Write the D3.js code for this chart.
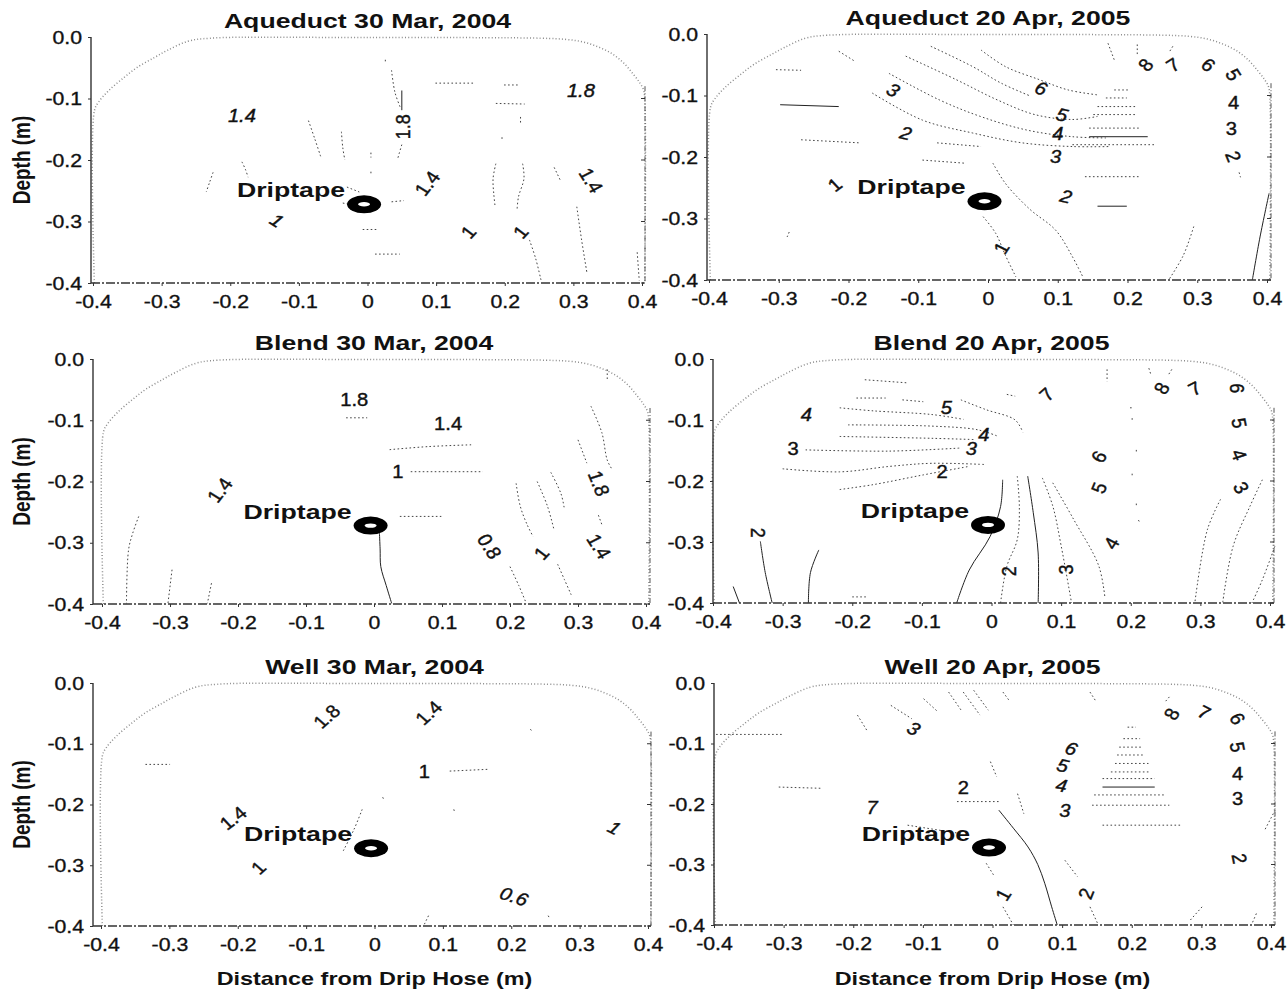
<!DOCTYPE html>
<html>
<head>
<meta charset="utf-8">
<script src="https://cdn.jsdelivr.net/npm/d3@7"></script>
<style>
  body { margin: 0; background: #fff; }
  text { font-family: "Liberation Sans", Arial, sans-serif; fill: #111; }
</style>
</head>
<body>
<svg id="fig" width="1288" height="991"></svg>
<script>
// ---- data (x = distance from hose, d = depth, m) ----
var xTicks = [-0.4, -0.3, -0.2, -0.1, 0, 0.1, 0.2, 0.3, 0.4];
var depthTicks = [0, -0.1, -0.2, -0.3, -0.4];

var panelTitles = ["Aqueduct 30 Mar, 2004", "Aqueduct 20 Apr, 2005",
                   "Blend 30 Mar, 2004", "Blend 20 Apr, 2005",
                   "Well 30 Mar, 2004", "Well 20 Apr, 2005"];

// bed outline (dotted)
var bedX =     [-0.398, -0.398, -0.392, -0.377, -0.355, -0.335, -0.31, -0.292, -0.262, -0.23, 0.0, 0.253, 0.29, 0.314, 0.336, 0.356, 0.373, 0.387, 0.397, 0.402, 0.404, 0.404];
var bedDepth = [-0.4, -0.12, -0.106, -0.087, -0.066, -0.049, -0.033, -0.022, -0.007, -0.002, -0.001, -0.002, -0.004, -0.008, -0.016, -0.027, -0.042, -0.06, -0.075, -0.085, -0.1, -0.4];

var driptapeX = -0.005, driptapeDepth = -0.272;

// Aqueduct 2004
var aq04Dashed = [
  [[0.035,-0.054],[0.04,-0.09],[0.048,-0.115]],
  [[0.05,-0.175],[0.046,-0.19],[0.044,-0.198]],
  [[-0.086,-0.136],[-0.077,-0.165],[-0.068,-0.195]],
  [[-0.038,-0.154],[-0.036,-0.18],[-0.033,-0.2]],
  [[-0.183,-0.203],[-0.178,-0.215],[-0.174,-0.228]],
  [[-0.225,-0.22],[-0.23,-0.236],[-0.235,-0.252]],
  [[-0.03,-0.244],[-0.012,-0.252]],
  [[-0.036,-0.27],[-0.026,-0.272]],
  [[0.035,-0.268],[0.053,-0.266]],
  [[0.099,-0.075],[0.156,-0.075]],
  [[0.199,-0.078],[0.221,-0.078]],
  [[0.187,-0.108],[0.229,-0.109]],
  [[0.187,-0.206],[0.183,-0.23],[0.184,-0.255],[0.186,-0.276]],
  [[0.226,-0.206],[0.228,-0.23],[0.22,-0.26],[0.218,-0.28]],
  [[0.236,-0.33],[0.245,-0.36],[0.253,-0.396]],
  [[0.272,-0.212],[0.281,-0.233]],
  [[0.305,-0.276],[0.312,-0.33],[0.32,-0.385]],
  [[0.393,-0.35],[0.396,-0.396]],
  [[-0.007,-0.313],[0.014,-0.313]],
  [[0.011,-0.353],[0.047,-0.353]],
  [[0.223,-0.13],[0.223,-0.141]],
  [[0.196,-0.163],[0.196,-0.169]],
  [[0.005,-0.188],[0.005,-0.196]],
  [[0.005,-0.219],[0.005,-0.225]],
  [[0.026,-0.037],[0.026,-0.043]]
];
var aq04Solid = [
  [[0.05,-0.087],[0.05,-0.119]]
];
var aq04Labels = [["1.4",-0.183,-0.127],["1.8",0.052,-0.146],["1.8",0.311,-0.087],["1.4",0.087,-0.238],
                  ["1.4",0.326,-0.233],["1",-0.132,-0.298],["1",0.147,-0.317],["1",0.223,-0.317]];
var aq04LabelLook = [[0,1],[-90,0],[0,1],[-55,0],[60,0],[35,1],[-50,0],[-50,0]];

// Aqueduct 2005
var aq05Dashed = [
  [[-0.214,-0.028],[-0.19,-0.045]],
  [[-0.304,-0.058],[-0.268,-0.059]],
  [[-0.268,-0.172],[-0.184,-0.177]],
  [[-0.094,-0.205],[-0.034,-0.21]],
  [[-0.073,-0.177],[-0.01,-0.183]],
  [[-0.082,-0.02],[-0.022,-0.053],[0.019,-0.08],[0.061,-0.101]],
  [[-0.118,-0.036],[-0.046,-0.074],[0.013,-0.107],[0.067,-0.131],[0.121,-0.139],[0.157,-0.134]],
  [[-0.142,-0.064],[-0.07,-0.107],[-0.011,-0.134],[0.055,-0.156],[0.121,-0.167],[0.169,-0.169]],
  [[-0.166,-0.096],[-0.094,-0.14],[-0.022,-0.161],[0.049,-0.177],[0.121,-0.183],[0.175,-0.183]],
  [[-0.01,-0.026],[0.025,-0.053],[0.073,-0.074],[0.115,-0.091],[0.157,-0.099]],
  [[0.172,-0.015],[0.181,-0.042]],
  [[0.214,-0.017],[0.214,-0.036]],
  [[0.265,-0.02],[0.259,-0.031]],
  [[0.181,-0.091],[0.202,-0.091]],
  [[0.169,-0.104],[0.199,-0.104]],
  [[0.157,-0.118],[0.211,-0.118]],
  [[0.151,-0.131],[0.214,-0.131]],
  [[0.145,-0.153],[0.217,-0.153]],
  [[0.121,-0.18],[0.241,-0.18]],
  [[0.139,-0.232],[0.217,-0.232]],
  [[-0.007,-0.297],[0.011,-0.324],[0.025,-0.36],[0.04,-0.395]],
  [[0.007,-0.21],[0.025,-0.243],[0.06,-0.285],[0.097,-0.319],[0.12,-0.36],[0.136,-0.395]],
  [[0.295,-0.313],[0.28,-0.36],[0.259,-0.4]],
  [[-0.285,-0.322],[-0.288,-0.33]],
  [[0.36,-0.225],[0.362,-0.233]]
];
var aq05Solid = [
  [[-0.298,-0.115],[-0.214,-0.118]],
  [[0.145,-0.167],[0.229,-0.167]],
  [[0.157,-0.28],[0.199,-0.28]],
  [[0.403,-0.259],[0.39,-0.33],[0.379,-0.4]]
];
var aq05Labels = [["8",0.226,-0.05],["7",0.265,-0.05],["6",0.316,-0.05],["5",0.352,-0.066],["4",0.352,-0.112],
                  ["3",0.349,-0.153],["2",0.352,-0.199],["3",-0.136,-0.091],["6",0.076,-0.088],["5",0.106,-0.131],
                  ["4",0.1,-0.161],["3",0.097,-0.199],["2",-0.118,-0.161],["2",0.112,-0.264],["1",0.019,-0.348],["1",-0.22,-0.245]];
var aq05LabelLook = [[-50,0],[-35,0],[40,0],[60,0],[0,0],[0,0],[70,0],[30,1],[20,1],[15,1],[0,1],[0,1],[15,1],[15,1],[-60,0],[-40,0]];

// Blend 2004
var bl04Dashed = [
  [[-0.041,-0.096],[-0.01,-0.096]],
  [[0.023,-0.148],[0.08,-0.143],[0.145,-0.14]],
  [[0.054,-0.184],[0.16,-0.184]],
  [[0.038,-0.257],[0.099,-0.257]],
  [[-0.346,-0.257],[-0.355,-0.285],[-0.361,-0.312],[-0.364,-0.399]],
  [[-0.297,-0.344],[-0.303,-0.399]],
  [[-0.239,-0.366],[-0.245,-0.399]],
  [[0.209,-0.203],[0.215,-0.24],[0.225,-0.27],[0.234,-0.29]],
  [[0.2,-0.339],[0.213,-0.37],[0.224,-0.399]],
  [[0.24,-0.2],[0.255,-0.24],[0.265,-0.28]],
  [[0.27,-0.335],[0.28,-0.36],[0.29,-0.385]],
  [[0.26,-0.185],[0.275,-0.22],[0.28,-0.245]],
  [[0.319,-0.077],[0.335,-0.12],[0.343,-0.165],[0.35,-0.18]],
  [[0.3,-0.132],[0.313,-0.17]],
  [[0.33,-0.255],[0.335,-0.27]],
  [[0.343,-0.017],[0.343,-0.034]]
];
var bl04Solid = [
  [[0.008,-0.284],[0.009,-0.31],[0.01,-0.339],[0.018,-0.37],[0.026,-0.399]]
];
var bl04Labels = [["1.8",-0.029,-0.066],["1.4",0.109,-0.105],["1",0.035,-0.184],["1.4",-0.227,-0.214],
                  ["1.8",0.331,-0.203],["0.8",0.17,-0.306],["1",0.246,-0.317],["1.4",0.331,-0.306]];
var bl04LabelLook = [[0,0],[0,0],[0,0],[-55,0],[70,0],[60,0],[-50,0],[60,0]];

// Blend 2005
var bl05Dashed = [
  [[-0.182,-0.034],[-0.122,-0.039]],
  [[-0.194,-0.064],[-0.152,-0.064]],
  [[-0.128,-0.067],[-0.098,-0.07]],
  [[-0.218,-0.08],[-0.17,-0.085],[-0.086,-0.091],[-0.04,-0.099]],
  [[-0.206,-0.108],[-0.086,-0.11],[-0.02,-0.116],[0.01,-0.127]],
  [[-0.218,-0.127],[-0.086,-0.13],[-0.026,-0.132]],
  [[-0.267,-0.149],[-0.147,-0.151],[-0.045,-0.146]],
  [[-0.3,-0.18],[-0.218,-0.185],[-0.146,-0.176],[-0.086,-0.171],[-0.008,-0.173]],
  [[-0.218,-0.214],[-0.17,-0.206],[-0.098,-0.19],[-0.032,-0.176]],
  [[-0.044,-0.067],[-0.008,-0.083],[0.034,-0.1],[0.045,-0.12]],
  [[0.022,-0.058],[0.034,-0.061]],
  [[0.166,-0.017],[0.166,-0.037]],
  [[0.226,-0.015],[0.229,-0.026]],
  [[0.259,-0.017],[0.253,-0.028]],
  [[0.199,-0.08],[0.204,-0.08]],
  [[0.202,-0.097],[0.202,-0.101]],
  [[0.208,-0.149],[0.208,-0.153]],
  [[0.202,-0.188],[0.202,-0.192]],
  [[0.208,-0.237],[0.208,-0.241]],
  [[0.211,-0.264],[0.213,-0.268]],
  [[0.037,-0.192],[0.04,-0.242],[0.037,-0.296],[0.022,-0.34],[0.013,-0.4]],
  [[0.073,-0.195],[0.088,-0.241],[0.1,-0.306],[0.115,-0.4]],
  [[0.088,-0.203],[0.118,-0.263],[0.154,-0.339],[0.163,-0.392]],
  [[0.389,-0.198],[0.371,-0.242],[0.347,-0.307],[0.332,-0.4]],
  [[0.329,-0.23],[0.31,-0.28],[0.292,-0.4]],
  [[0.407,-0.307],[0.389,-0.362],[0.374,-0.4]],
  [[-0.2,-0.39],[-0.18,-0.39]]
];
var bl05Solid = [
  [[0.016,-0.198],[0.013,-0.242],[-0.002,-0.291],[-0.032,-0.346],[-0.05,-0.4]],
  [[0.052,-0.192],[0.06,-0.252],[0.067,-0.318],[0.067,-0.4]],
  [[-0.332,-0.299],[-0.325,-0.35],[-0.315,-0.4]],
  [[-0.248,-0.313],[-0.26,-0.35],[-0.263,-0.4]],
  [[-0.371,-0.373],[-0.362,-0.4]]
];
var bl05Labels = [["4",-0.266,-0.091],["5",-0.065,-0.08],["4",-0.011,-0.124],["3",-0.285,-0.146],["3",-0.029,-0.146],
                  ["2",-0.071,-0.184],["7",0.079,-0.058],["8",0.244,-0.048],["7",0.292,-0.048],["6",0.353,-0.048],
                  ["5",0.356,-0.105],["4",0.356,-0.157],["3",0.359,-0.211],["6",0.154,-0.16],["5",0.154,-0.211],
                  ["4",0.172,-0.302],["2",-0.335,-0.285],["2",0.025,-0.348],["3",0.106,-0.345]];
var bl05LabelLook = [[0,1],[0,1],[0,1],[0,0],[0,1],[0,0],[-45,0],[-60,0],[-30,0],[90,0],
                     [80,0],[70,0],[60,0],[-60,0],[-70,0],[-60,0],[90,0],[-90,0],[-90,0]];

// Well 2004
var we04Dashed = [
  [[-0.335,-0.134],[-0.299,-0.134]],
  [[0.11,-0.145],[0.168,-0.142]],
  [[-0.018,-0.208],[-0.03,-0.241],[-0.046,-0.277]],
  [[0.012,-0.188],[0.014,-0.193]],
  [[0.116,-0.208],[0.117,-0.212]],
  [[0.228,-0.076],[0.23,-0.079]],
  [[0.079,-0.383],[0.073,-0.397]],
  [[0.254,-0.383],[0.256,-0.387]]
];
var we04Solid = [];
var we04Labels = [["1.8",-0.07,-0.055],["1.4",0.079,-0.049],["1",0.073,-0.145],["1.4",-0.207,-0.222],
                  ["1",-0.17,-0.304],["1",0.351,-0.238],["0.6",0.204,-0.351]];
var we04LabelLook = [[-45,0],[-45,0],[0,0],[-40,0],[-45,0],[30,1],[20,1]];

// Well 2005
var we05Dashed = [
  [[-0.009,-0.298],[0.003,-0.32]],
  [[0.015,-0.37],[0.03,-0.4]],
  [[0.104,-0.293],[0.122,-0.32]],
  [[0.14,-0.37],[0.152,-0.4]],
  [[-0.194,-0.053],[-0.179,-0.081]],
  [[-0.146,-0.037],[-0.116,-0.059]],
  [[-0.099,-0.026],[-0.078,-0.048]],
  [[-0.063,-0.015],[-0.045,-0.045]],
  [[-0.042,-0.015],[-0.018,-0.053]],
  [[-0.027,-0.012],[-0.006,-0.045]],
  [[0.015,-0.015],[0.024,-0.029]],
  [[0.14,-0.015],[0.149,-0.031]],
  [[0.254,-0.023],[0.248,-0.031]],
  [[-0.307,-0.172],[-0.247,-0.174]],
  [[-0.051,-0.196],[0.009,-0.196]],
  [[-0.122,-0.235],[-0.045,-0.249]],
  [[-0.397,-0.085],[-0.3,-0.085]],
  [[0.194,-0.073],[0.206,-0.073]],
  [[0.188,-0.092],[0.212,-0.092]],
  [[0.182,-0.106],[0.215,-0.106]],
  [[0.179,-0.119],[0.218,-0.119]],
  [[0.176,-0.133],[0.224,-0.133]],
  [[0.17,-0.147],[0.227,-0.147]],
  [[0.158,-0.158],[0.233,-0.158]],
  [[0.146,-0.185],[0.248,-0.185]],
  [[0.143,-0.202],[0.254,-0.202]],
  [[0.158,-0.235],[0.272,-0.235]],
  [[0.406,-0.21],[0.391,-0.243]],
  [[0.301,-0.37],[0.284,-0.392]],
  [[0.379,-0.381],[0.373,-0.397]],
  [[-0.003,-0.13],[0.006,-0.155]],
  [[0.036,-0.183],[0.045,-0.216]]
];
var we05Solid = [
  [[0.009,-0.21],[0.03,-0.24],[0.051,-0.271],[0.065,-0.3],[0.075,-0.331],[0.085,-0.37],[0.093,-0.4]],
  [[0.158,-0.172],[0.233,-0.172]]
];
var we05Labels = [["8",0.257,-0.051],["7",0.304,-0.048],["6",0.352,-0.059],["5",0.352,-0.106],["4",0.352,-0.15],
                  ["3",0.352,-0.191],["2",0.355,-0.29],["3",-0.113,-0.075],["6",0.113,-0.108],["5",0.101,-0.136],
                  ["4",0.099,-0.169],["3",0.104,-0.21],["2",-0.042,-0.172],["7",-0.173,-0.205],["1",0.015,-0.35],["2",0.134,-0.348]];
var we05LabelLook = [[-60,0],[30,0],[60,0],[80,0],[0,0],[0,0],[80,0],[30,1],[20,1],[15,1],
                     [10,1],[0,1],[0,0],[0,1],[-60,0],[-70,0]];

// ---- layout (pixels) ----
var layout = [
  {px: [93, 642],   py: [37, 283],  axisX: 91,  rightX: 645},
  {px: [709, 1267], py: [34, 280],  axisX: 707, rightX: 1271},
  {px: [102, 646],  py: [359, 604], axisX: 93,  rightX: 650},
  {px: [713, 1270], py: [359, 603], axisX: 713, rightX: 1274},
  {px: [101, 648],  py: [683, 926], axisX: 93,  rightX: 651},
  {px: [714, 1271], py: [683, 925], axisX: 714, rightX: 1275}
];

var panels = [
  {dashed: aq04Dashed, solid: aq04Solid, labels: aq04Labels, look: aq04LabelLook},
  {dashed: aq05Dashed, solid: aq05Solid, labels: aq05Labels, look: aq05LabelLook},
  {dashed: bl04Dashed, solid: bl04Solid, labels: bl04Labels, look: bl04LabelLook},
  {dashed: bl05Dashed, solid: bl05Solid, labels: bl05Labels, look: bl05LabelLook},
  {dashed: we04Dashed, solid: we04Solid, labels: we04Labels, look: we04LabelLook},
  {dashed: we05Dashed, solid: we05Solid, labels: we05Labels, look: we05LabelLook}
];

var svg = d3.select("#fig");
var fmtX = d => d === 0 ? "0" : (d < 0 ? "-" : "") + Math.abs(d).toFixed(1);
var fmtY = d => (d < 0 ? "-" : "") + Math.abs(d).toFixed(1);

panels.forEach(function(p, i) {
  var L = layout[i];
  var x = d3.scaleLinear().domain([-0.4, 0.4]).range(L.px);
  var y = d3.scaleLinear().domain([0, -0.4]).range(L.py);
  var g = svg.append("g");
  var line = d3.line().x(q => x(q[0])).y(q => y(q[1])).curve(d3.curveCatmullRom);

  // bed outline
  g.append("path")
    .datum(d3.zip(bedX, bedDepth))
    .attr("d", line)
    .attr("fill", "none")
    .attr("stroke", "#8c8c8c")
    .attr("stroke-width", 1.5)
    .attr("stroke-dasharray", "1,2.2");

  // contour traces
  g.selectAll("path.dash").data(p.dashed).enter().append("path")
    .attr("class", "dash")
    .attr("d", line)
    .attr("fill", "none")
    .attr("stroke", "#444")
    .attr("stroke-width", 1)
    .attr("stroke-dasharray", "1.6,2.4");

  g.selectAll("path.solid").data(p.solid).enter().append("path")
    .attr("class", "solid")
    .attr("d", line)
    .attr("fill", "none")
    .attr("stroke", "#222")
    .attr("stroke-width", 1);

  // frame
  var yb = y(-0.4);
  g.append("line").attr("x1", L.axisX).attr("x2", L.axisX).attr("y1", y(0)).attr("y2", yb)
    .attr("stroke", "#222").attr("stroke-width", 1.3);
  g.append("line").attr("x1", L.axisX).attr("x2", L.rightX).attr("y1", yb).attr("y2", yb)
    .attr("stroke", "#333").attr("stroke-width", 1.4).attr("stroke-dasharray", "9,2,2,2");
  g.append("line").attr("x1", L.rightX).attr("x2", L.rightX).attr("y1", y(-0.08)).attr("y2", yb)
    .attr("stroke", "#555").attr("stroke-width", 1).attr("stroke-dasharray", "5,2,1,2");
  g.selectAll("line.rt").data(depthTicks.filter(d => d < -0.08)).enter().append("line")
    .attr("class", "rt")
    .attr("x1", L.rightX - 4).attr("x2", L.rightX)
    .attr("y1", d => y(d)).attr("y2", d => y(d))
    .attr("stroke", "#333");

  // axes
  var ax = g.append("g").attr("transform", "translate(0," + yb + ")")
    .call(d3.axisBottom(x).tickValues(xTicks).tickSize(3).tickSizeOuter(0).tickPadding(9).tickFormat(fmtX));
  var ay = g.append("g").attr("transform", "translate(" + L.axisX + ",0)")
    .call(d3.axisLeft(y).tickValues(depthTicks).tickSize(3).tickSizeOuter(0).tickPadding(5).tickFormat(fmtY));
  [ax, ay].forEach(function(a) {
    a.select(".domain").remove();
    a.selectAll("line").attr("stroke", "#333");
    a.selectAll("text")
      .attr("transform", "scale(1.12,1)")
      .style("font-size", "19px")
      .style("font-family", "'Liberation Sans', Arial, sans-serif")
      .attr("fill", "#111")
      .attr("stroke", "#111")
      .attr("stroke-width", 0.35);
  });

  // contour labels
  g.selectAll("text.lab").data(p.labels).enter().append("text")
    .attr("class", "lab")
    .attr("transform", (d, j) => "translate(" + x(d[1]) + "," + y(d[2]) + ") scale(1.12,1) rotate(" + p.look[j][0] + ")")
    .attr("text-anchor", "middle")
    .attr("dy", "0.36em")
    .attr("stroke", "#111")
    .attr("stroke-width", 0.4)
    .style("font-size", "18px")
    .style("font-style", (d, j) => p.look[j][1] ? "italic" : "normal")
    .text(d => d[0]);

  // driptape: black tube with a narrow white bore
  var cx = x(driptapeX), cy = y(driptapeDepth);
  g.append("ellipse").attr("cx", cx).attr("cy", cy).attr("rx", 17).attr("ry", 9).attr("fill", "#000");
  g.append("ellipse").attr("cx", cx).attr("cy", cy).attr("rx", 6).attr("ry", 2.2).attr("fill", "#fff");
  g.append("text")
    .attr("transform", "translate(" + (cx - 19) + "," + (cy - 7) + ") scale(1.27,1)")
    .attr("text-anchor", "end")
    .style("font-size", "21px").style("font-weight", "bold")
    .text("Driptape");

  // title
  g.append("text")
    .attr("transform", "translate(" + x(0) + "," + (y(0) - 9) + ") scale(1.3,1)")
    .attr("text-anchor", "middle")
    .style("font-size", "20.5px").style("font-weight", "bold")
    .text(panelTitles[i]);

  if (i % 2 === 0) {
    g.append("text")
      .attr("transform", "translate(30," + ((L.py[0] + L.py[1]) / 2) + ") scale(1.3,1) rotate(-90)")
      .attr("text-anchor", "middle")
      .style("font-size", "19px").style("font-weight", "bold")
      .text("Depth (m)");
  }
  if (i >= 4) {
    g.append("text")
      .attr("transform", "translate(" + x(0) + ",985) scale(1.3,1)")
      .attr("text-anchor", "middle")
      .style("font-size", "18px").style("font-weight", "bold")
      .text("Distance from Drip Hose (m)");
  }
});
</script>
</body>
</html>
